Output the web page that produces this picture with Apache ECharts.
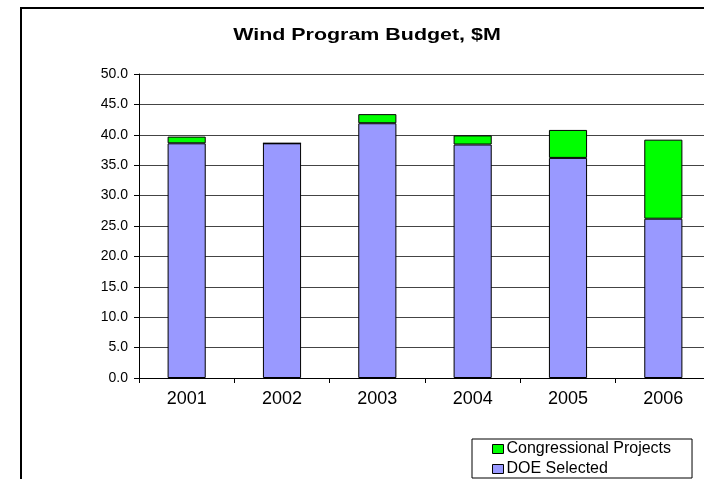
<!DOCTYPE html>
<html>
<head>
<meta charset="utf-8">
<script src="https://cdn.jsdelivr.net/npm/echarts@6/dist/echarts.min.js"></script>
<style>html,body{margin:0;padding:0;background:#fff;overflow:hidden;width:704px;height:479px}#c{width:724px;height:479px}</style>
</head>
<body>
<div id="c"></div>
<script>
const categories = ['2001', '2002', '2003', '2004', '2005', '2006'];
const doeSelected = [38.6, 38.6, 41.9, 38.4, 36.2, 26.2];
const congressional = [1.1, 0, 1.5, 1.5, 4.6, 13.0];
const yTicks = { min: 0, max: 50, interval: 5 };
const titleText = 'Wind Program Budget, $M';

const chart = echarts.init(document.getElementById('c'), null, { renderer: 'canvas' });
const font = 'Liberation Sans, Arial, sans-serif';
chart.setOption({
  animation: false,
  backgroundColor: '#fff',
  graphic: [
    {
      type: 'rect', silent: true, z: 0,
      shape: { x: 21, y: 8, width: 720, height: 490 },
      style: { fill: 'none', stroke: '#000', lineWidth: 2 }
    },
    {
      type: 'text', silent: true, z: 10,
      x: 367, y: 35, scaleX: 1.26,
      style: {
        text: titleText, fontFamily: font, fontSize: 17, fontWeight: 'bold',
        fill: '#000', align: 'center', verticalAlign: 'middle'
      }
    }
  ],
  legend: {
    orient: 'vertical', left: 472, top: 439,
    padding: [1, 21, 0, 20], itemGap: 2, itemWidth: 11, itemHeight: 9,
    borderColor: '#000', borderWidth: 1, backgroundColor: '#fff',
    textStyle: { fontFamily: font, fontSize: 16, lineHeight: 18, color: '#000', padding: [0, 0, 0, -2] },
    data: [
      { name: 'Congressional Projects', icon: 'rect', itemStyle: { color: '#00ff00', borderColor: '#000', borderWidth: 1 } },
      { name: 'DOE Selected', icon: 'rect', itemStyle: { color: '#9999ff', borderColor: '#000', borderWidth: 1 } }
    ]
  },
  grid: { left: 139, top: 74, width: 572, height: 304, containLabel: false },
  xAxis: {
    type: 'category', data: categories,
    axisLine: { lineStyle: { color: '#000', width: 1 } },
    axisTick: { show: true, length: 5, lineStyle: { color: '#000' } },
    axisLabel: { fontFamily: font, fontSize: 18, color: '#000', margin: 12 }
  },
  yAxis: {
    type: 'value', min: yTicks.min, max: yTicks.max, interval: yTicks.interval,
    axisLine: { show: true, lineStyle: { color: '#000', width: 1 } },
    axisTick: { show: true, length: 5, lineStyle: { color: '#000' } },
    axisLabel: { fontFamily: font, fontSize: 14, color: '#000', margin: 11, formatter: v => v.toFixed(1) },
    splitLine: { show: true, lineStyle: { color: '#444', width: 1 } }
  },
  series: [
    {
      name: 'DOE Selected', type: 'bar', stack: 'b', barWidth: '40%',
      data: doeSelected,
      itemStyle: { color: '#9999ff', borderColor: '#000', borderWidth: 1 }
    },
    {
      name: 'Congressional Projects', type: 'bar', stack: 'b', barWidth: '40%',
      data: congressional,
      itemStyle: { color: '#00ff00', borderColor: '#000', borderWidth: 1 }
    }
  ]
});
</script>
</body>
</html>
